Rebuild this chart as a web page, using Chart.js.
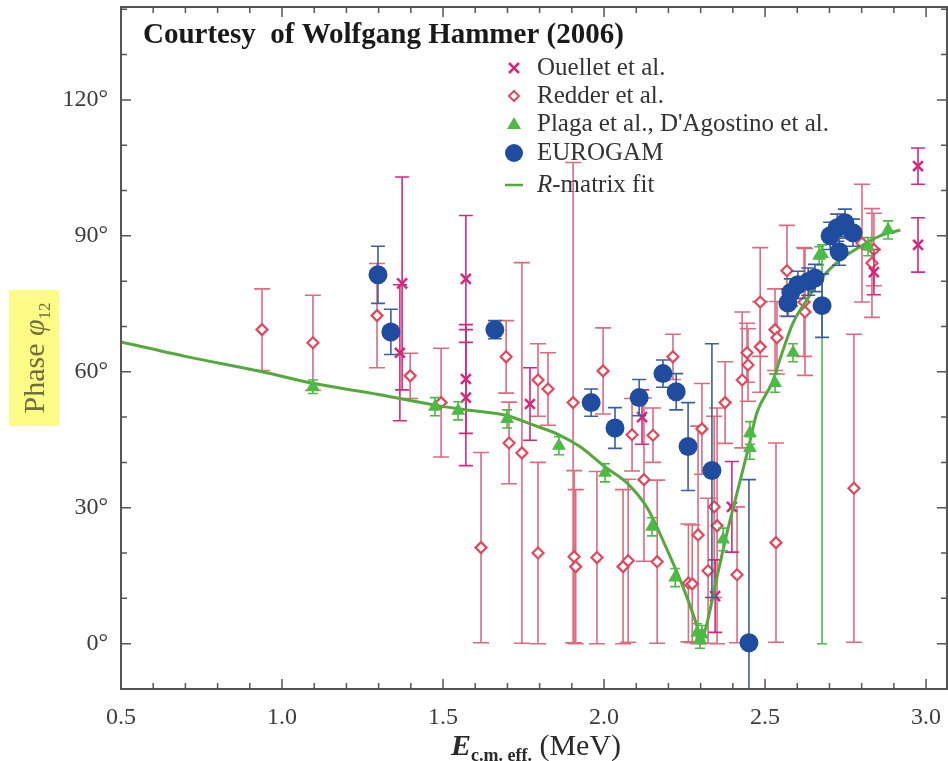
<!DOCTYPE html>
<html>
<head>
<meta charset="utf-8">
<script src="https://cdn.jsdelivr.net/npm/chart.js@4.4.0/dist/chart.umd.min.js"></script>
<style>
  html, body { margin: 0; padding: 0; background: #fff; }
  #wrap { width: 948px; height: 761px; }
</style>
</head>
<body>
<div id="wrap"><canvas id="phaseChart" width="948" height="761"></canvas></div>
<script>
// Ouellet et al.
const ouelletE     = [1.373, 1.366, 1.571, 1.571, 1.571, 1.770, 2.118, 2.345, 2.397, 2.838, 2.975, 2.975];
const ouelletPhase = [79.5, 64.2, 80.5, 58.4, 54.3, 52.9, 50.0, 10.5, 30.2, 82.0, 105.4, 88.0];
const ouelletErr   = [23.5, 15, 14, 12, 15, 8, 6, 8, 10, 5, 4, 6];

// Redder et al.
const redderE = [0.938, 1.096, 1.295, 1.398, 1.494, 1.618, 1.696, 1.705, 1.745, 1.795,
                 1.826, 1.795, 1.904, 1.907, 1.912, 1.978, 1.997, 2.059, 2.075, 2.087,
                 2.124, 2.152, 2.165, 2.214, 2.262, 2.274, 2.292, 2.304, 2.323, 2.342,
                 2.351, 2.376, 2.413, 2.429, 2.444, 2.447, 2.485, 2.485, 2.534, 2.531,
                 2.537, 2.568, 2.621, 2.624, 2.776, 2.801, 2.832, 2.838];
const redderPhase = [69.3, 66.4, 72.4, 59.1, 53.2, 21.2, 63.3, 44.3, 42.1, 58.2,
                     56.2, 20.0, 53.2, 19.2, 17.0, 19.0, 60.2, 17.0, 18.3, 46.1,
                     36.2, 46.0, 18.1, 63.3, 13.4, 13.2, 24.0, 47.4, 16.1, 30.2,
                     26.0, 53.2, 15.2, 58.2, 64.2, 61.5, 75.4, 65.5, 22.3, 69.3,
                     67.5, 82.3, 75.4, 73.2, 34.3, 88.4, 84.0, 87.0];
const redderErr = [9, 10.5, 11.5, 5, 12, 21, 8, 9, 42, 8,
                   8, 20, 53, 19, 17, 19, 9.5, 17, 18, 8,
                   18, 6, 18, 5, 13, 13, 24, 10, 16, 20,
                   26, 9, 15, 15, 6.5, 8, 12, 10, 22, 9,
                   8, 10, 12, 14, 34, 13, 12, 8];

// Plaga et al., D'Agostino et al.  (one point carries a long lower bar: [low, high])
const plagaE     = [1.096, 1.475, 1.547, 1.699, 1.860, 2.003, 2.149, 2.221, 2.289, 2.298,
                    2.304, 2.370, 2.453, 2.453, 2.531, 2.587, 2.668, 2.677, 2.820, 2.882];
const plagaPhase = [56.7, 52.3, 51.4, 49.6, 43.7, 37.7, 25.8, 14.6, 2.4, 1.0,
                    2.0, 23.0, 43.2, 46.5, 57.5, 64.2, 85.6, 86.0, 87.6, 91.3];
const plagaErr   = [1.5, 2, 2, 2, 2, 2, 2, 2, 2, 2,
                    2, 2.5, 2.5, 2.5, 2, 2, 2, [86, 2], 2, 2];

// EUROGAM
const eurogamE     = [1.298, 1.338, 1.661, 1.960, 2.034, 2.109, 2.183, 2.224, 2.261, 2.335,
                      2.450, 2.571, 2.580, 2.602, 2.634, 2.655, 2.677, 2.702, 2.724, 2.730,
                      2.748, 2.773];
const eurogamPhase = [81.4, 68.8, 69.3, 53.2, 47.6, 54.3, 59.6, 55.6, 43.5, 38.2,
                      0.2, 75.2, 77.5, 79.2, 79.9, 80.7, 74.6, 90.0, 91.8, 86.5,
                      92.9, 90.7];
const eurogamErr   = [6.3, 5, 2, 3, 4.5, 4, 3, 4, 9.7, 28,
                      36, 3, 3, 3, 3, 3, 7, 3, 3, 3,
                      3, 3];

// R-matrix fit
const fitE     = [0.5, 0.7, 0.938, 1.1, 1.3, 1.47, 1.57, 1.7, 1.77, 1.86, 1.925, 2.003,
                  2.071, 2.134, 2.196, 2.245, 2.289, 2.30, 2.314, 2.351, 2.382, 2.413,
                  2.447, 2.475, 2.522, 2.553, 2.587, 2.63, 2.671, 2.733, 2.795, 2.857, 2.92];
const fitPhase = [66.6, 63.4, 60.0, 57.4, 55.0, 52.7, 51.6, 50.3, 48.5, 46.1, 43.5, 39.0,
                  35.5, 30.0, 20.7, 12.6, 3.8, 1.0, 3.0, 14.8, 24.5, 33.3,
                  42.8, 51.0, 57.6, 64.2, 70.8, 75.9, 80.3, 84.7, 87.6, 90.0, 91.3];

const xTicks = [0.5, 1.0, 1.5, 2.0, 2.5, 3.0];
const yTicks = [0, 30, 60, 90, 120];

const pts = (xs, ys) => xs.map((v, i) => ({ x: v, y: ys[i] }));

const SERIF = '"Liberation Serif", "Times New Roman", serif';
const C_RED = '#e0485e', C_RED_BAR = '#dc6b80';
const C_MAG = '#d3297c';
const C_GREEN = '#4dba45', C_FIT = '#55a83f';
const C_BLUE = '#1f4c9e', C_BLUE_BAR = '#3f5f9c';

// vertical error bars, drawn just before each dataset's markers
const errorBars = {
  id: 'errorBars',
  beforeDatasetDraw(chart, args) {
    const ds = chart.data.datasets[args.index];
    if (!ds.errors) return;
    const { ctx, chartArea: a, scales: { x, y } } = chart;
    ctx.save();
    ctx.beginPath();
    ctx.rect(a.left, a.top, a.right - a.left, a.bottom - a.top);
    ctx.clip();
    ctx.strokeStyle = ds.errorColor;
    ctx.lineWidth = 1.6;
    ds.data.forEach((p, i) => {
      const e = ds.errors[i];
      const lo = Array.isArray(e) ? e[0] : e;
      const hi = Array.isArray(e) ? e[1] : e;
      const px = x.getPixelForValue(p.x);
      const y1 = y.getPixelForValue(p.y - lo);
      const y2 = y.getPixelForValue(p.y + hi);
      const c = ds.capHalf;
      ctx.beginPath();
      ctx.moveTo(px, y1); ctx.lineTo(px, y2);
      ctx.moveTo(px - c, y1); ctx.lineTo(px + c, y1);
      ctx.moveTo(px - c, y2); ctx.lineTo(px + c, y2);
      ctx.stroke();
    });
    ctx.restore();
  }
};

// frame with inward ticks, title, legend and axis titles
const decorations = {
  id: 'decorations',
  afterDraw(chart) {
    const { ctx, chartArea: a, scales: { x, y } } = chart;
    ctx.save();

    // frame
    ctx.strokeStyle = '#555';
    ctx.lineWidth = 2;
    ctx.strokeRect(a.left, a.top, a.right - a.left, a.bottom - a.top);

    // ticks
    ctx.lineWidth = 1.5;
    ctx.beginPath();
    for (let v = 5; v <= 30; v++) {
      const px = x.getPixelForValue(v / 10);
      if (px > a.right) break;
      const len = v % 5 === 0 ? 10 : 6;
      ctx.moveTo(px, a.bottom); ctx.lineTo(px, a.bottom - len);
      ctx.moveTo(px, a.top); ctx.lineTo(px, a.top + len);
    }
    for (let v = 0; v <= 140; v += 10) {
      const py = y.getPixelForValue(v);
      const len = v % 30 === 0 ? 10 : 6;
      ctx.moveTo(a.left, py); ctx.lineTo(a.left + len, py);
      ctx.moveTo(a.right, py); ctx.lineTo(a.right - len, py);
    }
    ctx.stroke();

    // title inside the plot
    ctx.fillStyle = '#1a1a1a';
    ctx.font = 'bold 29px ' + SERIF;
    ctx.textBaseline = 'alphabetic';
    ctx.textAlign = 'left';
    ctx.fillText('Courtesy  of Wolfgang Hammer (2006)', 143, 43);

    // legend
    const lx = 514, tx = 537;
    const rows = [68, 96, 124, 153, 185];
    ctx.font = '25px ' + SERIF;
    ctx.fillStyle = '#333';
    ctx.textBaseline = 'middle';

    ctx.strokeStyle = C_MAG; ctx.lineWidth = 2.5;
    ctx.beginPath();
    ctx.moveTo(lx - 5, rows[0] - 5); ctx.lineTo(lx + 5, rows[0] + 5);
    ctx.moveTo(lx + 5, rows[0] - 5); ctx.lineTo(lx - 5, rows[0] + 5);
    ctx.stroke();
    ctx.fillText('Ouellet et al.', tx, rows[0]);

    ctx.strokeStyle = C_RED; ctx.lineWidth = 2;
    ctx.beginPath();
    ctx.moveTo(lx, rows[1] - 5); ctx.lineTo(lx + 5, rows[1]);
    ctx.lineTo(lx, rows[1] + 5); ctx.lineTo(lx - 5, rows[1]); ctx.closePath();
    ctx.stroke();
    ctx.fillText('Redder et al.', tx, rows[1]);

    ctx.fillStyle = C_GREEN;
    ctx.beginPath();
    ctx.moveTo(lx, rows[2] - 7); ctx.lineTo(lx + 7, rows[2] + 5); ctx.lineTo(lx - 7, rows[2] + 5);
    ctx.closePath(); ctx.fill();
    ctx.fillStyle = '#333';
    ctx.fillText("Plaga et al., D'Agostino et al.", tx, rows[2]);

    ctx.fillStyle = C_BLUE;
    ctx.beginPath(); ctx.arc(lx, rows[3], 9, 0, Math.PI * 2); ctx.fill();
    ctx.fillStyle = '#333';
    ctx.fillText('EUROGAM', tx, rows[3]);

    ctx.strokeStyle = C_FIT; ctx.lineWidth = 2.5;
    ctx.beginPath(); ctx.moveTo(lx - 9, rows[4]); ctx.lineTo(lx + 9, rows[4]); ctx.stroke();
    ctx.font = 'italic 25px ' + SERIF;
    ctx.fillText('R', tx, rows[4]);
    const rw = ctx.measureText('R').width;
    ctx.font = '25px ' + SERIF;
    ctx.fillText('-matrix fit', tx + rw, rows[4]);

    // x-axis title: E_{c.m. eff.} (MeV)
    ctx.fillStyle = '#2a2a2a';
    ctx.textBaseline = 'alphabetic';
    const parts = [
      ['bold italic 30px ' + SERIF, 'E', 0],
      ['bold 18px ' + SERIF, 'c.m. eff.', 6],
      ['30px ' + SERIF, ' (MeV)', 0]
    ];
    let total = 0;
    parts.forEach(p => { ctx.font = p[0]; total += ctx.measureText(p[1]).width; });
    let cx = 536 - total / 2;
    parts.forEach(p => {
      ctx.font = p[0];
      ctx.fillText(p[1], cx, 755 + p[2]);
      cx += ctx.measureText(p[1]).width;
    });

    // y-axis title on a highlighted band
    ctx.fillStyle = '#fbfb86';
    ctx.fillRect(9, 290, 50, 136);
    ctx.translate(44, 358);
    ctx.rotate(-Math.PI / 2);
    ctx.fillStyle = '#6f6f3c';
    const yparts = [
      ['30px ' + SERIF, 'Phase ', 0],
      ['italic 30px ' + SERIF, 'φ', 0],
      ['17px ' + SERIF, '12', 6]
    ];
    let yt = 0;
    yparts.forEach(p => { ctx.font = p[0]; yt += ctx.measureText(p[1]).width; });
    let cy = -yt / 2;
    yparts.forEach(p => {
      ctx.font = p[0];
      ctx.fillText(p[1], cy, 0 + p[2]);
      cy += ctx.measureText(p[1]).width;
    });

    ctx.restore();
  }
};

// keep the plot frame where the layout padding puts it
const noScalePadding = s => {
  s.paddingTop = 0; s.paddingBottom = 0; s.paddingLeft = 0; s.paddingRight = 0;
};

new Chart(document.getElementById('phaseChart').getContext('2d'), {
  type: 'scatter',
  data: {
    datasets: [
      {
        label: 'EUROGAM',
        data: pts(eurogamE, eurogamPhase),
        errors: eurogamErr, errorColor: C_BLUE_BAR, capHalf: 7,
        pointStyle: 'circle', pointRadius: 9.5,
        backgroundColor: C_BLUE, borderColor: C_BLUE, borderWidth: 0
      },
      {
        label: "Plaga et al., D'Agostino et al.",
        data: pts(plagaE, plagaPhase),
        errors: plagaErr, errorColor: C_GREEN, capHalf: 5,
        pointStyle: 'triangle', pointRadius: 8,
        backgroundColor: C_GREEN, borderColor: C_GREEN, borderWidth: 0
      },
      {
        type: 'line',
        label: 'R-matrix fit',
        data: pts(fitE, fitPhase),
        borderColor: C_FIT, borderWidth: 3,
        pointRadius: 0, fill: false,
        cubicInterpolationMode: 'monotone'
      },
      {
        label: 'Ouellet et al.',
        data: pts(ouelletE, ouelletPhase),
        errors: ouelletErr, errorColor: C_MAG, capHalf: 7,
        pointStyle: 'crossRot', pointRadius: 7,
        borderColor: C_MAG, borderWidth: 2.5
      },
      {
        label: 'Redder et al.',
        data: pts(redderE, redderPhase),
        errors: redderErr, errorColor: C_RED_BAR, capHalf: 8,
        pointStyle: 'rectRot', pointRadius: 5.5,
        backgroundColor: '#fff', borderColor: C_RED, borderWidth: 2.2
      }
    ]
  },
  options: {
    responsive: false,
    animation: false,
    devicePixelRatio: 1,
    layout: { autoPadding: false, padding: { top: 7, right: 1, left: 0, bottom: 0 } },
    plugins: { legend: { display: false }, tooltip: { enabled: false } },
    scales: {
      x: {
        type: 'linear', min: 0.5, max: 3.065,
        grid: { display: false, drawTicks: false },
        border: { display: false },
        afterFit: s => { s.height = 72; noScalePadding(s); },
        afterBuildTicks: s => { s.ticks = xTicks.map(v => ({ value: v })); },
        ticks: {
          padding: 14, color: '#3c3c3c',
          font: { family: SERIF, size: 24 },
          callback: v => v.toFixed(1)
        }
      },
      y: {
        min: -10, max: 140.5,
        grid: { display: false, drawTicks: false },
        border: { display: false },
        afterFit: s => { s.width = 121; noScalePadding(s); },
        afterBuildTicks: s => { s.ticks = yTicks.map(v => ({ value: v })); },
        ticks: {
          padding: 13, color: '#3c3c3c',
          font: { family: SERIF, size: 24 },
          callback: v => v + '°'
        }
      }
    }
  },
  plugins: [errorBars, decorations]
});
</script>
</body>
</html>
